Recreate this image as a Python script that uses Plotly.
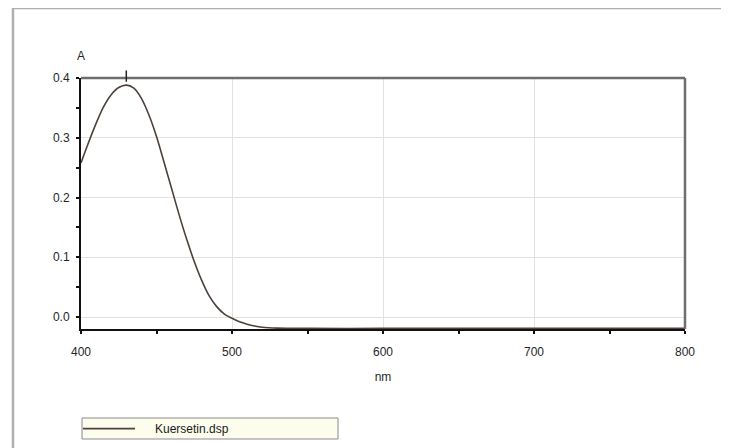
import plotly.graph_objects as go
import numpy as np

# ---- data ----
wavelength_nm = [400, 405, 410, 415, 420, 425, 430, 435, 440, 445, 450, 455, 460,
                 465, 470, 475, 480, 485, 490, 495, 500, 505, 510, 515, 520, 530,
                 550, 600, 650, 700, 750, 800]
absorbance = [0.258, 0.292, 0.324, 0.352, 0.372, 0.384, 0.388, 0.383, 0.366, 0.338,
              0.302, 0.259, 0.215, 0.171, 0.130, 0.093, 0.061, 0.035, 0.017, 0.005,
              -0.002, -0.008, -0.012, -0.015, -0.017, -0.0185, -0.019, -0.019, -0.019,
              -0.019, -0.019, -0.019]
series_name = "Kuersetin.dsp"
x_ticks = [400, 500, 600, 700, 800]
y_ticks = [0.0, 0.1, 0.2, 0.3, 0.4]
y_tick_labels = ["0.0", "0.1", "0.2", "0.3", "0.4"]

peak_nm = wavelength_nm[int(np.argmax(absorbance))]

line_color = "#4e403a"
font = dict(family="Liberation Sans, Arial, sans-serif", size=12, color="#262626")

fig = go.Figure()
fig.add_trace(go.Scatter(
    x=wavelength_nm, y=absorbance, mode="lines", name=series_name,
    line=dict(color=line_color, width=1.6, shape="spline", smoothing=0.8),
    showlegend=False,
))

axis_common = dict(
    showline=True, linecolor="#111111", linewidth=2,
    ticks="outside", ticklen=3, tickwidth=1.5, tickcolor="#111111",
    showgrid=True, gridcolor="#e2e2e2", gridwidth=1,
    zeroline=False, tickfont=font,
)

# the page body adds an 8px margin, so the figure is 8px smaller than the window
fig.update_layout(
    width=721, height=440,
    margin=dict(l=73, r=44, t=70, b=119),
    paper_bgcolor="white", plot_bgcolor="white",
    font=font,
    showlegend=False,
    xaxis=dict(
        range=[400, 800], tickvals=x_ticks, ticktext=[str(v) for v in x_ticks],
        title=dict(text="nm", font=font, standoff=14),
        ticklabelstandoff=8,
        minor=dict(ticks="outside", ticklen=3, tickwidth=1.5, tickcolor="#111111",
                   dtick=50, showgrid=False),
        **axis_common,
    ),
    yaxis=dict(
        range=[-0.02, 0.4], tickvals=y_ticks, ticktext=y_tick_labels,
        ticklabelstandoff=4,
        minor=dict(ticks="outside", ticklen=3, tickwidth=1.5, tickcolor="#111111",
                   dtick=0.05, tick0=0.0, showgrid=False),
        **axis_common,
    ),
)

# grey frame on top and right of plot area
fig.add_shape(type="line", xref="x domain", yref="y domain", x0=0, x1=1, y0=1, y1=1,
              line=dict(color="#6e6e6e", width=2.5))
fig.add_shape(type="line", xref="x domain", yref="y domain", x0=1, x1=1, y0=0, y1=1,
              line=dict(color="#6e6e6e", width=2.5))
# peak marker
fig.add_shape(type="line", xref="x", yref="y domain", x0=peak_nm, x1=peak_nm,
              y0=0.985, y1=1.03, line=dict(color="#222222", width=1.5))

# outer window frame
fig.add_shape(type="line", xref="paper", yref="paper", x0=-0.1126, x1=1.2, y0=1.279, y1=1.279,
              line=dict(color="#b0b0b0", width=2.5))
fig.add_shape(type="line", xref="paper", yref="paper", x0=-0.1126, x1=-0.1126, y0=-0.6, y1=1.279,
              line=dict(color="#b0b0b0", width=2.5))

# y-axis unit label
fig.add_annotation(text="A", xref="paper", yref="paper", x=0.0, y=1.088,
                   xanchor="center", yanchor="middle", showarrow=False, font=font)

# legend box (drawn like the original software's legend panel)
fig.add_shape(type="rect", xref="paper", yref="paper", x0=0.0017, x1=0.4255,
              y0=-0.4382, y1=-0.3546,
              line=dict(color="#8a8a8a", width=1), fillcolor="#fdfdee")
fig.add_shape(type="line", xref="paper", yref="paper", x0=0.0033, x1=0.0894,
              y0=-0.3968, y1=-0.3968, line=dict(color=line_color, width=1.6))
fig.add_annotation(text=series_name, xref="paper", yref="paper", x=0.1192, y=-0.3968,
                   xanchor="left", yanchor="middle", showarrow=False,
                   font=dict(family="Liberation Sans, Arial, sans-serif", size=12, color="#1a1a1a"))

fig.write_html("out.html")
